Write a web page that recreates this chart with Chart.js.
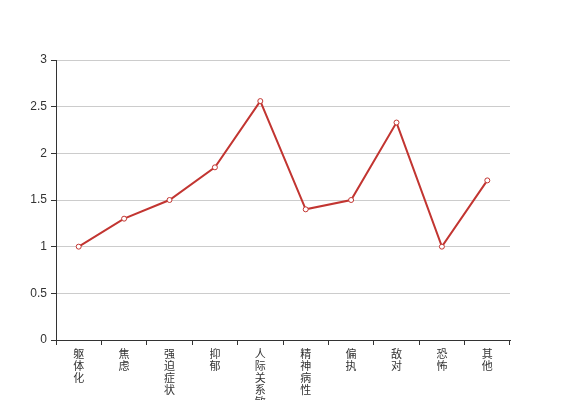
<!DOCTYPE html>
<html>
<head>
<meta charset="utf-8">
<script src="https://cdn.jsdelivr.net/npm/chart.js@4/dist/chart.umd.min.js"></script>
<style>
  html, body { margin: 0; padding: 0; background: #fff; }
  #wrap { width: 567px; height: 400px; }
</style>
</head>
<body>
<div id="wrap"><canvas id="chart" width="567" height="400"></canvas></div>
<script>
// categories and scores
const categories = ["躯体化", "焦虑", "强迫症状", "抑郁", "人际关系敏感", "精神病性", "偏执", "敌对", "恐怖", "其他"];
const scores = [1.0, 1.3, 1.5, 1.85, 2.56, 1.4, 1.5, 2.33, 1.0, 1.71];
const yTicks = [0, 0.5, 1, 1.5, 2, 2.5, 3];

const lineColor = "#c23531";
const axisColor = "#333";

new Chart(document.getElementById("chart"), {
  type: "line",
  data: {
    // vertical text: one character per line
    labels: categories.map((c) => c.split("")),
    datasets: [
      {
        data: scores,
        borderColor: lineColor,
        borderWidth: 2,
        pointRadius: 2.5,
        pointBorderWidth: 1,
        pointBackgroundColor: "#fff",
        pointBorderColor: lineColor,
        tension: 0,
      },
    ],
  },
  options: {
    responsive: false,
    animation: false,
    layout: { padding: { top: 60, right: 57, left: 0, bottom: 0 } },
    plugins: { legend: { display: false }, tooltip: { enabled: false } },
    scales: {
      x: {
        offset: true,
        grid: {
          offset: true,
          drawOnChartArea: false,
          drawTicks: true,
          tickLength: 5,
          color: axisColor,
        },
        border: { color: axisColor, width: 1 },
        ticks: {
          maxRotation: 0,
          autoSkip: false,
          padding: 3,
          color: "#333",
          font: { family: "'Noto Sans CJK SC', sans-serif", size: 11, lineHeight: "12px" },
        },
        afterFit: (scale) => { scale.height = 60; },
      },
      y: {
        min: 0,
        max: 3,
        afterBuildTicks: (scale) => { scale.ticks = yTicks.map((v) => ({ value: v })); },
        grid: {
          color: "#ccc",
          tickColor: axisColor,
          tickLength: 5,
        },
        border: { color: axisColor, width: 1 },
        ticks: {
          padding: 4,
          color: "#333",
          font: { family: "'Liberation Sans', Arial, sans-serif", size: 12 },
          callback: (v) => String(v),
        },
        afterFit: (scale) => { scale.width = 56; },
      },
    },
  },
});
</script>
</body>
</html>
